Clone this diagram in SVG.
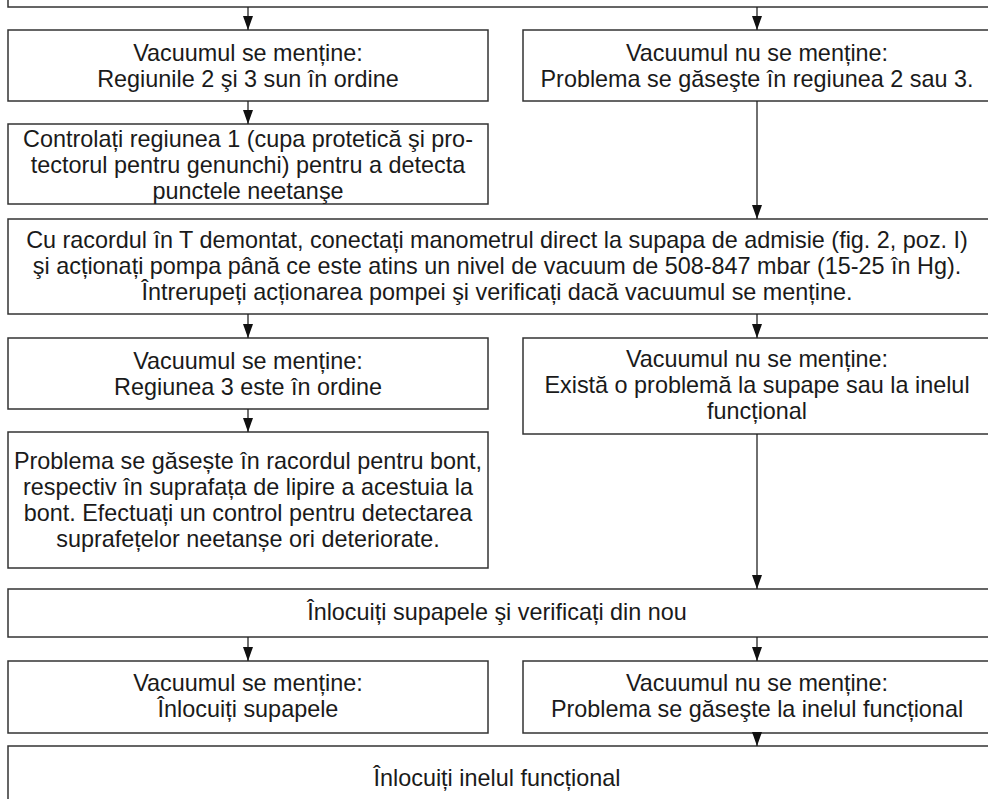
<svg xmlns="http://www.w3.org/2000/svg" width="988" height="799" viewBox="0 0 988 799">
<style>
  .box { fill: #ffffff; stroke: #333333; stroke-width: 1.5; }
  .t { font-family: "Liberation Sans", Arial, sans-serif; font-size: 23.4px; fill: #1a1a1a; text-anchor: middle; }
  .c { stroke: #222222; stroke-width: 1.3; fill: none; marker-end: url(#ah); }
</style>
<defs>
  <marker id="ah" viewBox="0 0 14 10" refX="14" refY="5" markerUnits="userSpaceOnUse" markerWidth="14" markerHeight="10" orient="auto">
    <path d="M0,0 L14,5 L0,10 z" fill="#111111"/>
  </marker>
</defs>
<rect width="988" height="799" fill="#ffffff"/>

<g id="n0"><rect class="box" x="8" y="-60" width="984" height="67"/></g>

<g id="n1"><rect class="box" x="8" y="30" width="480" height="71"/>
  <text class="t" x="248" y="61">Vacuumul se menține:</text>
  <text class="t" x="248" y="87">Regiunile 2 şi 3 sun în ordine</text></g>

<g id="n2"><rect class="box" x="523" y="30" width="469" height="71"/>
  <text class="t" x="757" y="61">Vacuumul nu se menține:</text>
  <text class="t" x="757" y="87">Problema se găseşte în regiunea 2 sau 3.</text></g>

<g id="n3"><rect class="box" x="8" y="124" width="480" height="80"/>
  <text class="t" x="248" y="147">Controlați regiunea 1 (cupa protetică şi pro-</text>
  <text class="t" x="248" y="173">tectorul pentru genunchi) pentru a detecta</text>
  <text class="t" x="248" y="199">punctele neetanşe</text></g>

<g id="n4"><rect class="box" x="8" y="219" width="984" height="95"/>
  <text class="t" x="497" y="248">Cu racordul în T demontat, conectați manometrul direct la supapa de admisie (fig. 2, poz. I)</text>
  <text class="t" x="497" y="274">şi acționați pompa până ce este atins un nivel de vacuum de 508-847 mbar (15-25 în Hg).</text>
  <text class="t" x="497" y="300">Întrerupeți acționarea pompei şi verificați dacă vacuumul se menține.</text></g>

<g id="n5"><rect class="box" x="8" y="338" width="480" height="71"/>
  <text class="t" x="248" y="369">Vacuumul se menține:</text>
  <text class="t" x="248" y="395">Regiunea 3 este în ordine</text></g>

<g id="n6"><rect class="box" x="523" y="338" width="469" height="96"/>
  <text class="t" x="757" y="367">Vacuumul nu se menține:</text>
  <text class="t" x="757" y="393">Există o problemă la supape sau la inelul</text>
  <text class="t" x="757" y="419">funcțional</text></g>

<g id="n7"><rect class="box" x="8" y="432" width="480" height="136"/>
  <text class="t" x="248" y="469">Problema se găsește în racordul pentru bont,</text>
  <text class="t" x="248" y="495">respectiv în suprafața de lipire a acestuia la</text>
  <text class="t" x="248" y="521">bont. Efectuați un control pentru detectarea</text>
  <text class="t" x="248" y="547">suprafețelor neetanșe ori deteriorate.</text></g>

<g id="n8"><rect class="box" x="8" y="589" width="984" height="48"/>
  <text class="t" x="497" y="620">Înlocuiți supapele şi verificați din nou</text></g>

<g id="n9"><rect class="box" x="8" y="661" width="480" height="72"/>
  <text class="t" x="248" y="691">Vacuumul se menține:</text>
  <text class="t" x="248" y="717">Înlocuiți supapele</text></g>

<g id="n10"><rect class="box" x="523" y="661" width="469" height="72"/>
  <text class="t" x="757" y="691">Vacuumul nu se menține:</text>
  <text class="t" x="757" y="717">Problema se găseşte la inelul funcțional</text></g>

<g id="n11"><rect class="box" x="8" y="746" width="984" height="90"/>
  <text class="t" x="497" y="786">Înlocuiți inelul funcțional</text></g>

<g id="connectors">
  <line class="c" x1="248" y1="7" x2="248" y2="30"/>
  <line class="c" x1="757" y1="7" x2="757" y2="30"/>
  <line class="c" x1="248" y1="101" x2="248" y2="124"/>
  <line class="c" x1="757" y1="101" x2="757" y2="219"/>
  <line class="c" x1="248" y1="314" x2="248" y2="338"/>
  <line class="c" x1="757" y1="314" x2="757" y2="338"/>
  <line class="c" x1="248" y1="409" x2="248" y2="432"/>
  <line class="c" x1="757" y1="434" x2="757" y2="589"/>
  <line class="c" x1="248" y1="637" x2="248" y2="661"/>
  <line class="c" x1="757" y1="637" x2="757" y2="661"/>
  <line class="c" x1="757" y1="733" x2="757" y2="746"/>
</g>
</svg>
